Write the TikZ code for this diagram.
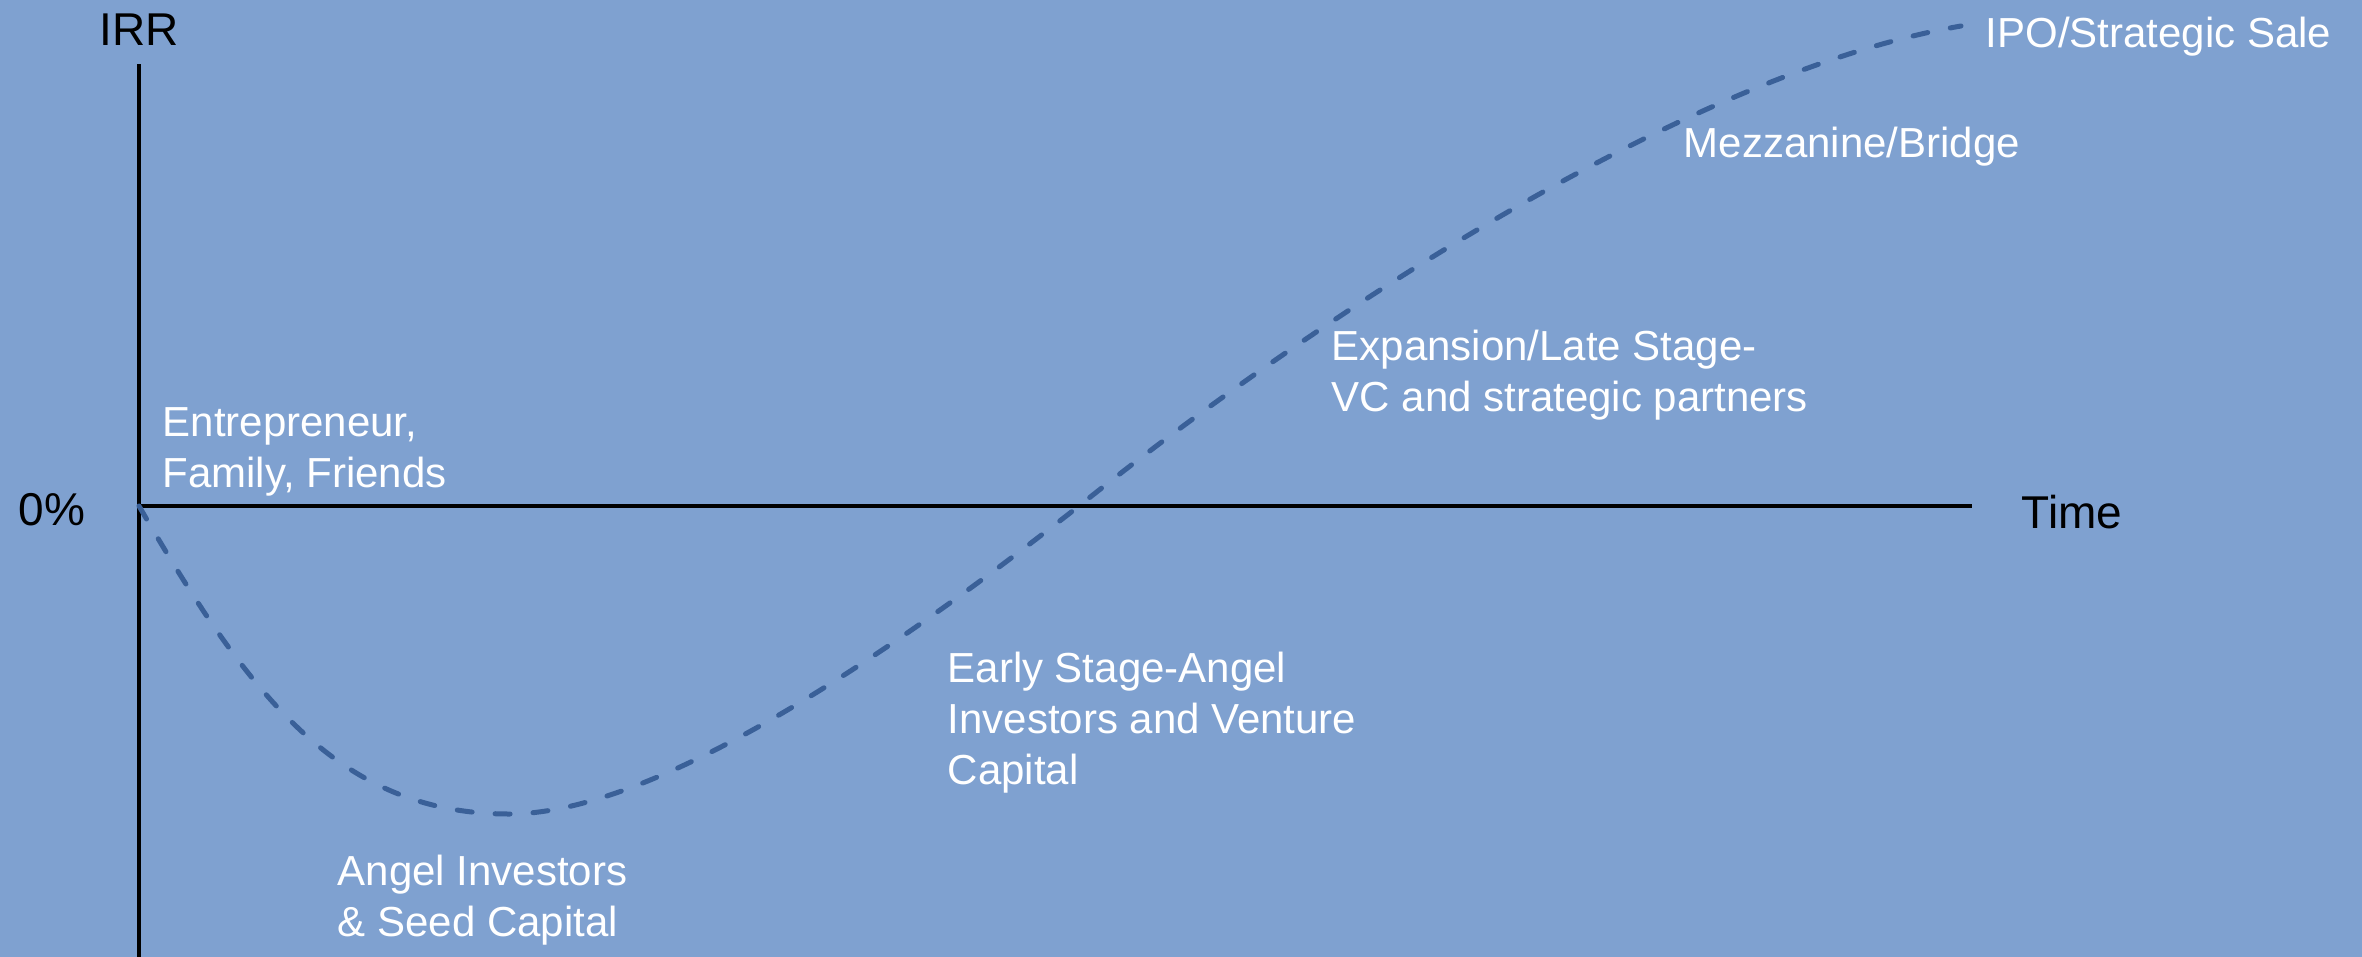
\documentclass[tikz,border=0pt]{standalone}
\usepackage{fontspec}
\setmainfont{Liberation Sans}
\definecolor{bgblue}{RGB}{127,161,208}
\definecolor{curveblue}{RGB}{58,96,152}
\begin{document}
\begin{tikzpicture}[x=0.3pt,y=-0.3pt,
  axis/.style={line width=1.05pt,black},
  blacklabel/.style={inner sep=0pt,font=\fontsize{13.8pt}{16pt}\selectfont,text=black},
  stagelabel/.style={inner sep=0pt,align=left,font=\fontsize{12.6pt}{15.3pt}\selectfont,text=white},
  curve/.style={curveblue,line width=1.5pt,line cap=round,dash pattern=on 4.5pt off 6.9pt}]
\fill[bgblue] (0,0) rectangle (2362,957);
\useasboundingbox (0,0) rectangle (2362,957);
% axes
\coordinate (o) at (139,506);
\coordinate (ytop) at (139,64);
\coordinate (ybot) at (139,957);
\coordinate (xend) at (1972,506);
\draw[axis] (ytop) -- (ybot);
\draw[axis] (o) -- (xend);
% axis labels
\node[blacklabel,anchor=base] (irr) at (139,45) {IRR};
\node[blacklabel,anchor=base west] (zero) at (18,525) {0\%};
\node[blacklabel,anchor=base west] (time) at (2021,528) {Time};
% curve
\coordinate (cmin) at (509,814);
\coordinate (ccross) at (1079,506);
\coordinate (cend) at (1961,26);
\draw[curve] (o) .. controls (249,696) and (339,814) .. (cmin)
  .. controls (669,814) and (929,623) .. (ccross)
  .. controls (1279,346) and (1670,76) .. (cend);
% stage labels (base anchor = baseline of last line)
\node[stagelabel,anchor=base west] (ent) at (162,487) {Entrepreneur,\\Family, Friends};
\node[stagelabel,anchor=base west] (angel) at (337,936) {Angel Investors\\\& Seed Capital};
\node[stagelabel,anchor=base west] (early) at (947,784) {Early Stage-Angel\\Investors and Venture\\Capital};
\node[stagelabel,anchor=base west] (exp) at (1331,411) {Expansion/Late Stage-\\VC and strategic partners};
\node[stagelabel,anchor=base west] (mezz) at (1683,157) {Mezzanine/Bridge};
\node[stagelabel,anchor=base west] (ipo) at (1985,47) {IPO/Strategic Sale};
\end{tikzpicture}
\end{document}
